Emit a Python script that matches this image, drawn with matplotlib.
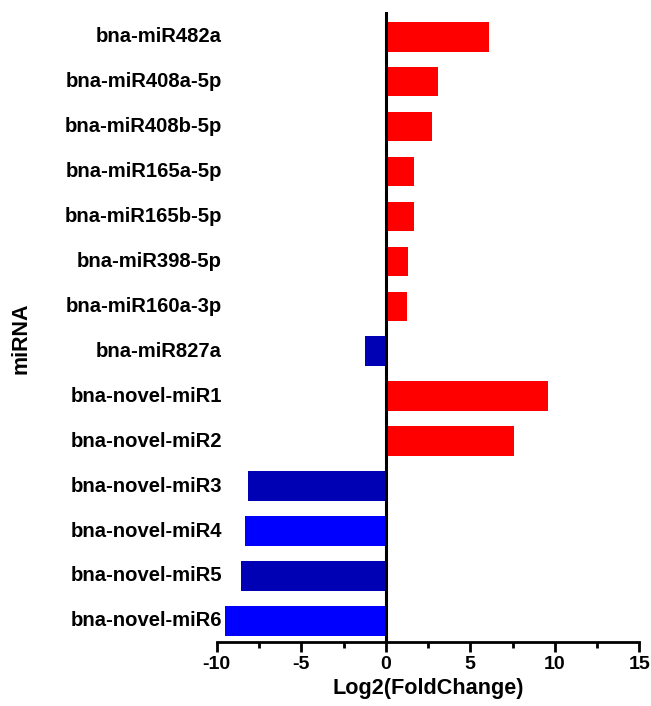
import matplotlib
matplotlib.use('Agg')
import matplotlib.pyplot as plt
import matplotlib.transforms as mtransforms
from matplotlib.ticker import MultipleLocator

plt.rcParams['font.family'] = ['Liberation Sans', 'DejaVu Sans']
plt.rcParams['font.weight'] = 'bold'
plt.rcParams['axes.unicode_minus'] = False

# data (top to bottom)
mirnas = ['bna-miR482a', 'bna-miR408a-5p', 'bna-miR408b-5p', 'bna-miR165a-5p',
          'bna-miR165b-5p', 'bna-miR398-5p', 'bna-miR160a-3p', 'bna-miR827a',
          'bna-novel-miR1', 'bna-novel-miR2', 'bna-novel-miR3', 'bna-novel-miR4',
          'bna-novel-miR5', 'bna-novel-miR6']
log2fc = [6.13, 3.09, 2.72, 1.65, 1.65, 1.33, 1.28, -1.24,
          9.59, 7.59, -8.13, -8.31, -8.56, -9.53]
colors = ['#ff0000'] * 7 + ['#0000b4'] + ['#ff0000'] * 2 + \
         ['#0000b4', '#0000ff', '#0000b4', '#0000ff']

fig = plt.figure(figsize=(6.51, 7.06), dpi=100)
ax = fig.add_axes([0.333, 0.09, 0.649, 0.893])

pos = list(range(len(mirnas)))
ax.barh(pos, log2fc, height=0.66, color=colors, edgecolor='none')
ax.set_ylim(13.48, -0.55)
ax.set_xlim(-10, 15)

# vertical zero line like the Prism y axis
ax.axvline(0, color='black', lw=2.2, zorder=3)

for s in ['top', 'right', 'left']:
    ax.spines[s].set_visible(False)
ax.spines['bottom'].set_linewidth(2)

ax.xaxis.set_major_locator(MultipleLocator(5))
ax.xaxis.set_minor_locator(MultipleLocator(2.5))
ax.tick_params(axis='x', which='major', length=7, width=2, labelsize=14, pad=3)
ax.tick_params(axis='x', which='minor', length=4, width=2)
ax.set_yticks([])

# labels to the left of the bars
trans = mtransforms.blended_transform_factory(ax.transAxes, ax.transData)
for p, name in zip(pos, mirnas):
    ax.text(0.0125, p, name, transform=trans, ha='right', va='center',
            fontsize=14.6, fontweight='bold')

ax.set_xlabel('Log2(FoldChange)', fontsize=15.6, fontweight='bold', labelpad=3)
fig.text(0.032, 0.521, 'miRNA', rotation=90, ha='center', va='center',
         fontsize=15.5, fontweight='bold')

fig.savefig('out.png', dpi=100)
